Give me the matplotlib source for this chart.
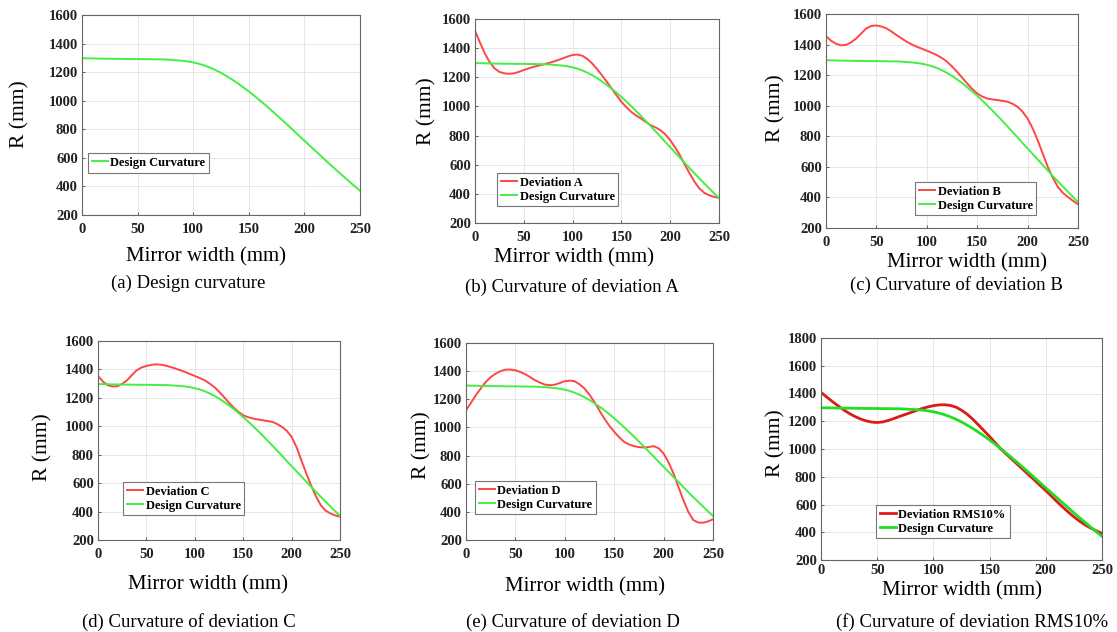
import matplotlib
matplotlib.use("Agg")
import matplotlib.pyplot as plt

W, H = 1117, 632

x = [0, 5, 10, 15, 20, 25, 30, 35, 40, 45, 50, 55, 60, 65, 70, 75, 80, 85, 90, 95,
     100, 105, 110, 115, 120, 125, 130, 135, 140, 145, 150, 155, 160, 165, 170, 175,
     180, 185, 190, 195, 200, 205, 210, 215, 220, 225, 230, 235, 240, 245, 250]

design = [1297, 1297, 1296, 1295, 1294, 1294, 1293, 1293, 1292, 1292, 1292, 1291, 1291,
          1290, 1290, 1288, 1286, 1283, 1280, 1275, 1268, 1259, 1247, 1232, 1215, 1195,
          1172, 1148, 1122, 1094, 1065, 1034, 1002, 969, 935, 900, 865, 829, 793, 756,
          720, 684, 648, 612, 576, 540, 505, 471, 437, 403, 370]

dev_a = [1520, 1440, 1364, 1305, 1261, 1237, 1227, 1224, 1227, 1237, 1250, 1261, 1272,
         1280, 1288, 1297, 1307, 1318, 1330, 1343, 1353, 1356, 1348, 1326, 1295, 1257,
         1215, 1170, 1123, 1076, 1032, 995, 963, 938, 917, 894, 871, 856, 837, 808,
         768, 720, 665, 600, 539, 482, 436, 407, 390, 379, 372]

dev_b = [1455, 1425, 1405, 1395, 1398, 1415, 1440, 1473, 1506, 1522, 1525, 1518, 1506,
         1485, 1462, 1440, 1419, 1401, 1386, 1373, 1360, 1346, 1331, 1312, 1288, 1257,
         1222, 1184, 1146, 1110, 1080, 1060, 1047, 1041, 1037, 1032, 1026, 1013, 993, 961,
         916, 852, 774, 687, 600, 528, 469, 430, 403, 378, 355]

dev_c = [1354, 1315, 1289, 1280, 1282, 1298, 1324, 1360, 1394, 1414, 1424, 1432, 1436,
         1433, 1427, 1417, 1406, 1394, 1382, 1368, 1354, 1340, 1324, 1302, 1277, 1244,
         1207, 1168, 1132, 1102, 1078, 1064, 1055, 1048, 1043, 1037, 1031, 1016, 996, 968,
         926, 855, 762, 672, 586, 510, 446, 407, 387, 373, 364]

dev_d = [1122, 1175, 1229, 1278, 1323, 1358, 1382, 1400, 1411, 1411, 1406, 1394, 1378,
         1357, 1335, 1318, 1304, 1300, 1304, 1316, 1328, 1333, 1328, 1306, 1276, 1232,
         1181, 1121, 1063, 1013, 969, 930, 898, 879, 867, 860, 857, 861, 867, 852,
         815, 752, 673, 578, 484, 400, 342, 324, 323, 332, 347]

dev_rms = [1408, 1375, 1343, 1312, 1283, 1257, 1235, 1217, 1203, 1194, 1191, 1195, 1206,
           1220, 1235, 1249, 1263, 1278, 1292, 1303, 1312, 1318, 1319, 1314, 1302, 1280,
           1251, 1215, 1174, 1132, 1090, 1045, 1000, 962, 925, 887, 850, 812, 775, 737,
           700, 660, 620, 582, 545, 511, 480, 453, 430, 410, 392]

xticks = [0, 50, 100, 150, 200, 250]

panels = [
    dict(rect=(82, 15, 360, 215), dev=None, name=None, ylim=(200, 1600),
         leg=(88, 153), yl=(20, 114), xl=(206, 257), xpad=6,
         cap="(a) Design curvature", cp=(188, 283), strong=False),
    dict(rect=(475, 19, 719, 223), dev=dev_a, name="Deviation A", ylim=(200, 1600),
         leg=(497, 173), yl=(427, 111), xl=(574, 258), xpad=6,
         cap="(b) Curvature of deviation A", cp=(572, 287), strong=False),
    dict(rect=(826, 14, 1078, 228), dev=dev_b, name="Deviation B", ylim=(200, 1600),
         leg=(915, 182), yl=(776, 108), xl=(967, 263), xpad=6,
         cap="(c) Curvature of deviation B", cp=(956, 285), strong=False),
    dict(rect=(98, 341, 340, 540), dev=dev_c, name="Deviation C", ylim=(200, 1600),
         leg=(123, 482), yl=(43, 447), xl=(208, 585), xpad=6,
         cap="(d) Curvature of deviation C", cp=(189, 622), strong=False),
    dict(rect=(466, 343, 713, 540), dev=dev_d, name="Deviation D", ylim=(200, 1600),
         leg=(475, 481), yl=(422, 445), xl=(585, 587), xpad=6,
         cap="(e) Curvature of deviation D", cp=(573, 622), strong=False),
    dict(rect=(821, 338, 1102, 560), dev=dev_rms, name="Deviation RMS10%", ylim=(200, 1800),
         leg=(876, 505), yl=(776, 443), xl=(962, 591), xpad=3,
         cap="(f) Curvature of deviation RMS10%", cp=(972, 622), strong=True),
]

serif = "Liberation Serif"
fig = plt.figure(figsize=(W / 100, H / 100), dpi=100)
fig.patch.set_facecolor("white")

for p in panels:
    l, t, r, b = p["rect"]
    ax = fig.add_axes([l / W, 1 - b / H, (r - l) / W, (b - t) / H])
    if p["strong"]:
        red, green, lw = "#dd1a1a", "#22dd22", 2.0
    else:
        red, green, lw = "#ff4545", "#44ee44", 1.4
    if p["dev"] is not None:
        ax.plot(x, p["dev"], color=red, lw=lw, label=p["name"],
                solid_joinstyle="round")
    ax.plot(x, design, color=green, lw=lw, label="Design Curvature",
            solid_joinstyle="round")
    ax.set_xlim(0, 250)
    ax.set_ylim(*p["ylim"])
    ax.set_xticks(xticks)
    ax.set_yticks(range(p["ylim"][0], p["ylim"][1] + 1, 200))
    ax.grid(True, color="#e6e6e6", lw=0.7)
    ax.set_axisbelow(True)
    for s in ax.spines.values():
        s.set_color("#666666")
        s.set_linewidth(0.8)
    ax.tick_params(direction="in", length=2, color="#666666", pad=3)
    ax.tick_params(axis="x", pad=p["xpad"])
    for lab in ax.get_xticklabels() + ax.get_yticklabels():
        lab.set_fontfamily(serif)
        lab.set_fontweight("bold")
        lab.set_fontsize(10.5)
        lab.set_color("#222222")
    lx, ly = p["leg"]
    leg = ax.legend(loc="upper left", bbox_to_anchor=(lx / W, 1 - ly / H),
                    bbox_transform=fig.transFigure, borderaxespad=0,
                    prop=dict(family=serif, weight="bold", size=9),
                    fancybox=False, framealpha=1, edgecolor="#777777",
                    handlelength=1.3, handletextpad=0.2, borderpad=0.3,
                    labelspacing=0.15)
    leg.get_frame().set_linewidth(0.8)
    fig.text(p["yl"][0] / W, 1 - p["yl"][1] / H, "R (mm)", rotation=90,
             ha="center", va="center", family=serif, fontsize=15.5)
    fig.text(p["xl"][0] / W, 1 - p["xl"][1] / H, "Mirror width (mm)",
             ha="center", va="center", family=serif, fontsize=15)
    fig.text(p["cp"][0] / W, 1 - p["cp"][1] / H, p["cap"],
             ha="center", va="center", family=serif, fontsize=13.5)

fig.savefig("out.png", dpi=100, facecolor="white")
